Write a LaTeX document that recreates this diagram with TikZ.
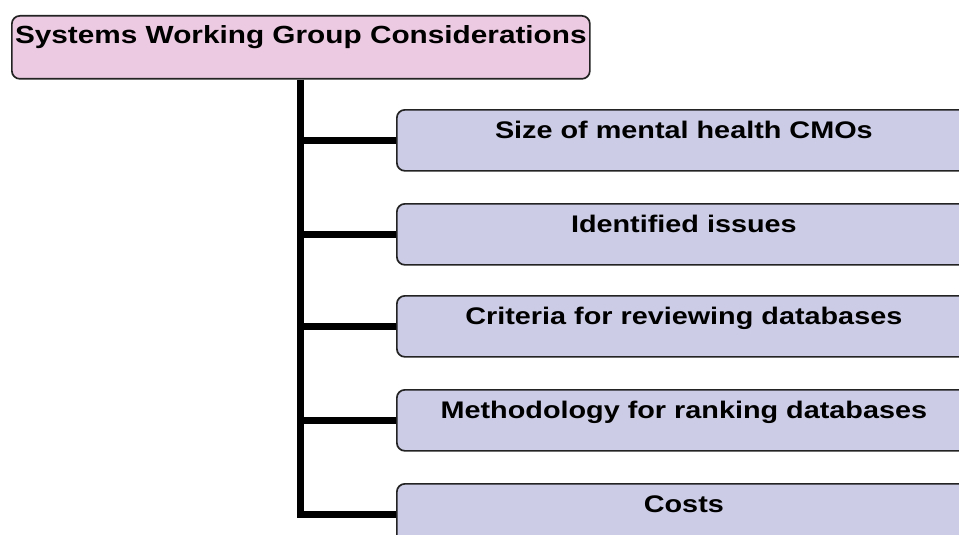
\documentclass[tikz,border=0pt]{standalone}
\usepackage{fontspec}
\setmainfont{Liberation Sans}[FakeStretch=1.2]
\usetikzlibrary{backgrounds}
\definecolor{pinkfill}{RGB}{236,202,225}
\definecolor{lavfill}{RGB}{204,204,230}
\definecolor{edge}{RGB}{35,35,35}
\tikzset{
  boxbase/.style={draw=edge, line width=1.7pt, rounded corners=8pt, anchor=north west, inner sep=0pt},
  topbox/.style={boxbase, fill=pinkfill, minimum width=578pt, minimum height=63pt},
  childbox/.style={boxbase, fill=lavfill, minimum width=574pt, minimum height=61pt},
  lbl/.style={anchor=base, inner sep=0pt, font=\fontsize{24}{28}\selectfont\bfseries},
  toplbl/.style={lbl, font=\fontsize{24.8}{28}\selectfont\bfseries},
  conn/.style={line width=7pt, black}
}
\begin{document}
\begin{tikzpicture}[x=1pt, y=-1pt]
\useasboundingbox (0,0) rectangle (959,535);
\clip (0,0) rectangle (959,535);
% boxes
\node[topbox] (top) at (11,15) {};
\node[childbox] (c1) at (396,109) {};
\node[childbox] (c2) at (396,203) {};
\node[childbox] (c3) at (396,295) {};
\node[childbox] (c4) at (396,389) {};
\node[childbox] (c5) at (396,483) {};
% labels
\node[toplbl] (ttop) at ([yshift=-29pt]top.north) {Systems Working Group Considerations};
\node[lbl] (t1) at ([yshift=-29pt]c1.north) {Size of mental health CMOs};
\node[lbl] (t2) at ([yshift=-29pt]c2.north) {Identified issues};
\node[lbl] (t3) at ([yshift=-29pt]c3.north) {Criteria for reviewing databases};
\node[lbl] (t4) at ([yshift=-29pt]c4.north) {Methodology for ranking databases};
\node[lbl] (t5) at ([yshift=-29pt]c5.north) {Costs};
% connectors behind the boxes
\begin{scope}[on background layer]
\fill[white] (0,0) rectangle (959,535);
\draw[conn] (top.south) |- (c5.west);
\foreach \c in {c1,c2,c3,c4}{
  \draw[conn] (top.south |- \c.west) -- (\c.west);
}
\end{scope}
\end{tikzpicture}
\end{document}
